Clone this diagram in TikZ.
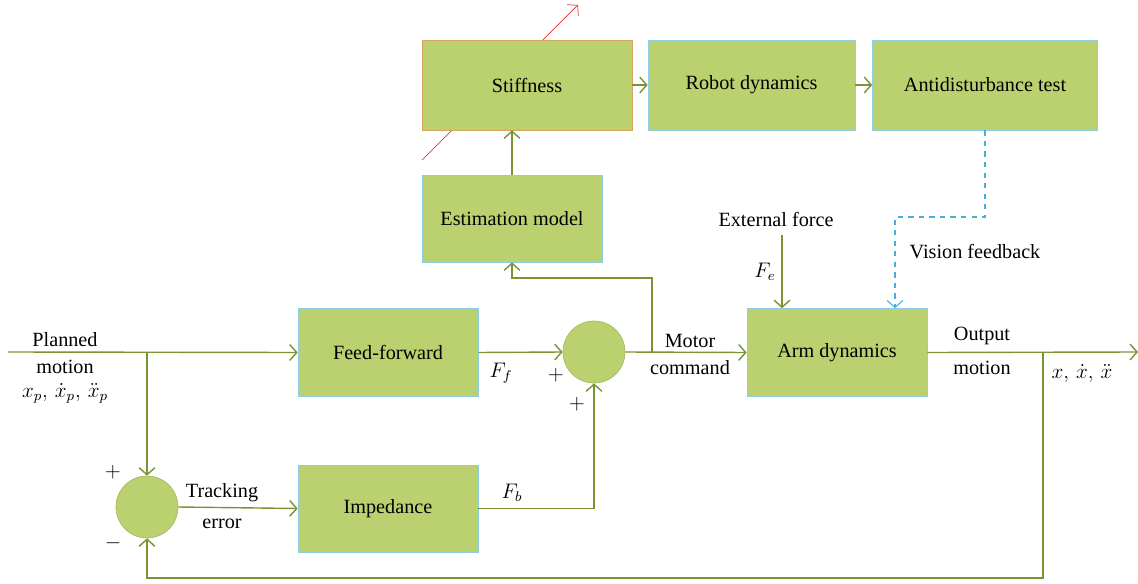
\documentclass[tikz,border=0pt]{standalone}
\usepackage{fontspec}
\setmainfont{Liberation Serif}
\usepackage{amsmath}
\usepackage{xcolor}
\usetikzlibrary{positioning}
\usetikzlibrary{calc}
\usetikzlibrary{arrows.meta}
\definecolor{blockgreen}{RGB}{187,208,110}
\definecolor{wiregreen}{RGB}{122,148,52}
\definecolor{edgeblue}{RGB}{140,205,225}
\definecolor{edgetan}{RGB}{215,165,95}
\definecolor{sumedge}{RGB}{165,188,100}
\definecolor{dashblue}{RGB}{70,175,225}
\definecolor{tunered}{RGB}{232,50,46}

\begin{document}
\begin{tikzpicture}[x=0.02cm,y=-0.02cm,
		>={Straight Barb[length=4pt,width=9pt]},
		block/.style={draw=edgeblue,fill=blockgreen,minimum width=3.6cm,minimum height=1.76cm,font=\fontsize{11.5}{13}\selectfont},
		sum/.style={circle,draw=sumedge,fill=blockgreen,minimum size=1.24cm,inner sep=0pt},
		lbl/.style={font=\fontsize{11.5}{13}\selectfont,inner sep=1pt}]
				\useasboundingbox (0,0) rectangle (1138,584);
				
				% tuning arrow through the stiffness block
				\coordinate (tunelow) at (422,160);
				\coordinate (tunehigh) at (578,5);
				\draw[draw=tunered,->] (tunelow) to (tunehigh);
				
				\node[block,draw=edgetan,minimum width=4.2cm,minimum height=1.8cm] (stiff) at (527,85) {Stiffness};
				\node[block,minimum width=4.14cm,minimum height=1.8cm] (robot) at (751.5,85) {Robot dynamics};
				\node[block,minimum width=4.5cm,minimum height=1.8cm] (anti) at (985,85) {Antidisturbance test};
				\node[block,minimum height=1.74cm] (est) at (512,218.5) {Estimation model};
				\node[block] (ff) at (388,352.5) {Feed-forward};
				\node[block] (arm) at (837,352.5) {Arm dynamics};
				\node[block,minimum height=1.74cm] (imp) at (388,508.5) {Impedance};
				
				\node[sum] (sumA) at (594,352) {};
				\node[sum] (sumB) at (147,507) {};
				
				\coordinate (start) at (8,352);
				\coordinate (split) at (147,352);
				\coordinate (motor) at (652,352);
				\coordinate (outsplit) at (1043,352);
				\coordinate (outend) at (1138,352);
				\coordinate (force) at (782,235);
				\coordinate (vision) at (895,217);
				
				% labels
				\node[lbl] (planned) at (65,340) {Planned};
				\node[lbl] (motion) at (65,367) {motion};
				\node[lbl] (xp) at (65,393) {$x_p,\, \dot{x}_p,\, \ddot{x}_p$};
				\node[lbl] (plusB) at (113,472) {$+$};
				\node[lbl] (minusB) at (113,543) {$-$};
				\node[lbl] (track) at (222,493) {Tracking};
				\node[lbl] (err) at (222,524) {error};
				\node[lbl] (Ff) at (501,373) {$F_f$};
				\node[lbl] (Fb) at (512,493) {$F_b$};
				\node[lbl] (plusA) at (556,375) {$+$};
				\node[lbl] (plusC) at (577,404) {$+$};
				\node[lbl] (mot) at (690,341) {Motor};
				\node[lbl] (cmd) at (690,368) {command};
				\node[lbl] (ext) at (776,219) {External force};
				\node[lbl] (Fe) at (765,272) {$F_e$};
				\node[lbl] (vis) at (975,252) {Vision feedback};
				\node[lbl] (outp) at (982,336) {Output};
				\node[lbl] (outm) at (982,368) {motion};
				\node[lbl] (xout) at (1082,374) {$x,\, \dot{x},\, \ddot{x}$};
				
				% connections
				\draw[thick,wiregreen,->] (start) to (ff.west);
				\draw[thick,wiregreen,->] (split) to (sumB.north);
				\draw[thick,wiregreen,->] (ff.east) to (sumA.west);
				\draw[thick,wiregreen,->] (imp.east) -| (sumA.south);
				\draw[thick,wiregreen,->] (sumB.east) to (imp.west);
				\draw[thick,wiregreen,->] (sumA.east) to (arm.west);
				\draw[thick,wiregreen,->] (motor) |- (est.south |- 0,278) to (est.south);
				\draw[thick,wiregreen,->] (est.north) to (est.north |- stiff.south);
				\draw[thick,wiregreen,->] (stiff.east) to (robot.west);
				\draw[thick,wiregreen,->] (robot.east) to (anti.west);
				\draw[thick,wiregreen,->] (force) to (force |- arm.north);
				\draw[thick,wiregreen,->] (arm.east) to (outend);
				\draw[thick,wiregreen,->] (outsplit) |- (sumB.south |- 0,578) to (sumB.south);
				\draw[semithick,dashblue,dashed,->] (anti.south) |- (vision) to (vision |- arm.north);
				
			\end{tikzpicture}
\end{document}
